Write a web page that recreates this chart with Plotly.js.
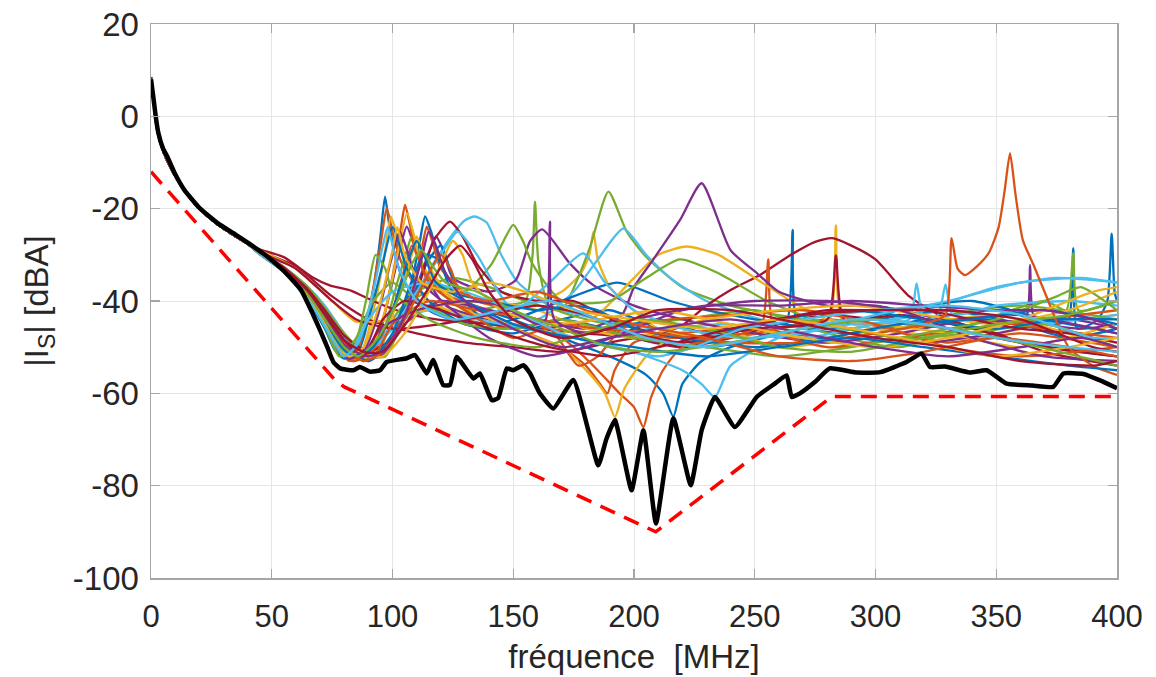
<!DOCTYPE html>
<html>
<head>
<meta charset="utf-8">
<script src="https://cdn.plot.ly/plotly-3.0.1.min.js"></script>
<style>html,body{margin:0;padding:0;background:#fff;}#chart{width:1156px;height:677px;}</style>
</head>
<body>
<div id="chart"></div>
<script>
// x ticks / y ticks
const xTicks = [0,50,100,150,200,250,300,350,400];
const xTickText = ['0','50','100','150','200','250','300','350','400'];
const yTicks = [-100,-80,-60,-40,-20,0,20];
const yTickText = ['-100','-80','-60','-40','-20','0','20'];

// shared low-frequency decay of all coloured curves
const decF = [0,1,2,3,5,8,12,16,20,25,30,35,40];
const decL = [8.5,4,-1,-4,-7.5,-11,-14.5,-17.5,-20,-22.3,-24.3,-26,-27.6];

// coloured curves (frequency MHz, level dBA) after the shared decay
const f01=[45,55,65,72,78,84,88,92,95,96.9,98.5,101,105,115,130,150,170,190,210,230,250,263,265.7,268,290,320,350,375,380,381.9,383.5,392,396,397.8,399,400];
const L01=[-29.8,-33.6,-39.5,-45,-51,-52.8,-48,-38,-26,-17.4,-23,-30,-36,-42,-45,-47,-44,-42,-46,-50,-48,-45,-24.6,-45,-47,-44,-42,-45,-44,-28.6,-46,-44,-40,-25.4,-38,-40];
const f02=[45,55,65,72,78,82,86,91,95,97.6,100,104,115,130,150,170,180,186,189,192,200,220,250,280,300,330,360,400];
const L02=[-29.7,-33.4,-39,-44.5,-50.5,-53,-50,-40,-28,-19.9,-25,-32,-40,-44,-46,-50,-54,-58,-60,-55,-49,-47,-46,-48,-46,-49,-47,-50];
const f03=[45,55,65,72,78,84,88,93,97,99.3,102,106,115,130,150,170,178,181.5,183.2,185,190,210,240,270,281,283.6,286,300,340,370,400];
const L03=[-29.6,-33.3,-38.6,-44,-50,-53,-50,-40,-29,-21.7,-26,-33,-40,-43,-42,-38,-34,-30,-25,-31,-37,-46,-48,-45,-44,-23.6,-44,-46,-48,-45,-43];
const f04=[45,55,65,72,80,88,94,99,103,105.9,109,114,122,140,160,180,200,220,240,260,290,320,350,380,400];
const L04=[-29.5,-33,-38,-43,-49,-53,-48,-38,-29,-23.9,-28,-35,-41,-44,-46,-45,-48,-50,-47,-44,-46,-49,-47,-44,-46];
const f05=[45,55,65,72,80,90,96,102,106,108,111,116,130,145,155,158,159,160.5,165,190,220,250,280,310,340,370,379,381.9,384,400];
const L05=[-29.5,-32.8,-37.5,-42,-48,-52.5,-47,-36,-29,-26,-30,-36,-42,-41,-40,-30,-18.5,-32,-41,-45,-44,-42,-47,-50,-45,-40,-42,-29.7,-42,-40];
const f06=[45,55,65,72,80,88,93,100,110,118,125,130,134,139,145,152,165,185,210,240,270,300,330,360,400];
const L06=[-29.4,-32.6,-37,-41,-47,-52,-51,-45,-38,-31,-25.5,-22.5,-21.7,-23,-30,-36,-41,-44,-46,-45,-48,-45,-42,-45,-43];
const f07=[45,55,67,74,83,92,101.7,110,119.7,140,160,180,200,220,240,260,280,300,330,360,400];
const L07=[-28.8,-30.5,-34.9,-36.6,-37.8,-40,-42,-43.2,-44.1,-45,-46,-47,-48,-50,-48,-45,-43,-44,-46,-49,-52];
const f08=[45,55,65,72,80,86,92,100,107,111,113.5,116,120,130,150,170,190,205,212,216.3,220,228,240,270,300,330,360,380,400];
const L08=[-29.7,-33.4,-39,-44.5,-50.5,-52.5,-52,-48,-38,-28,-21.7,-25,-32,-40,-44,-48,-52,-56,-60,-65,-58,-53,-50,-46,-44,-42,-45,-48,-46];
const f09=[45,55,65,72,78,84,90,96,101,103.5,105.2,107,110,120,140,160,175,185,194,200,203.9,207,212,220,250,280,310,340,370,400];
const L09=[-29.8,-33.5,-39.3,-45,-51,-53,-51,-44,-32,-24,-19.2,-23,-30,-38,-42,-44,-50,-55,-60,-63,-67.3,-61,-55,-50,-47,-44,-46,-44,-46,-48];
const f10=[45,55,65,72,78,85,91,97,102,106,109,112,125,150,170,182,188,192.1,196,205,215,230,260,290,320,350,380,400];
const L10=[-29.7,-33.3,-38.8,-44.3,-50,-52.5,-50,-42,-30,-21,-26,-32,-40,-46,-50,-56,-60,-65.1,-59,-52,-48,-45,-50,-48,-45,-43,-47,-49];
const f11=[45,55,65,72,80,88,94,102,110,115,118,121,125,140,151,157,162,173.5,183,200,220,250,280,310,340,362,364,366,385,400];
const L11=[-29.6,-33.2,-38.3,-43.5,-49.5,-52.5,-52,-47,-37,-29.5,-26,-29,-35,-38,-35.5,-27,-24.5,-31.9,-36.5,-41,-44,-47,-49,-47,-44,-44,-32.2,-44,-46,-45];
const f12=[45,55,65,72,80,88,94,100,110,125,140,155,170,176,182,189.4,197,205,220,240,270,300,330,360,400];
const L12=[-29.4,-32.6,-37,-41.5,-47,-51,-51,-44,-38,-35,-37,-40,-42,-36,-28,-16.3,-25,-30.4,-37,-41,-44,-47,-43,-41,-44];
const f13=[45,55,65,72,80,88,96,105,120,140,160,175,185,195.6,205,215,230,260,290,320,350,375,400];
const L13=[-29.5,-32.9,-37.6,-42.3,-48,-51.5,-52,-44,-40,-42,-44,-38,-31,-24.3,-30,-35,-40,-45,-46,-42,-37,-35,-36];
const f14=[45,60,75,90,110,130,150,170,190,210,219,230,240,252,265,275,282,290,300,314,330,350,370,400];
const L14=[-29.2,-32.5,-39,-44,-47,-49,-50,-51,-49,-47,-45.6,-41,-37.6,-34.4,-30,-27.2,-26.4,-28,-31,-39,-44,-47,-51,-54];
const f15=[45,55,65,72,80,90,100,108,114,120,127,140,150,170,193,215,230,250,280,310,340,370,400];
const L15=[-29.7,-33.3,-38.8,-44.4,-50.5,-53,-49,-40,-32,-28,-38,-45,-44,-40,-36,-40,-42,-44,-46,-42,-40,-44,-47];
const f16=[45,55,65,72,78,83,90,100,108,112,114.2,117,120,135,150,165,190,220,245,253,255.6,258,280,310,340,370,400];
const L16=[-29.8,-33.5,-39.2,-44.8,-50.5,-53,-52,-48,-38,-29,-23.9,-28,-33,-40,-42,-46,-47,-48,-47,-45,-31,-46,-50,-48,-46,-44,-42];
const f17=[45,55,65,72,80,88,96,103,108,110,113,118,130,150,170,185,200,210,221.8,235,250,265,280,300,330,360,400];
const L17=[-29.6,-33.1,-38.2,-43.4,-49.5,-52.5,-49,-38,-30,-26,-30,-35,-42,-45,-47,-43,-35,-30,-28.2,-30,-35,-40,-44,-45,-47,-50,-45];
const f18=[45,55,65,72,80,88,95,105,120,140,160,180,195,200,208,219,228,240,251,260,280,300,330,360,400];
const L18=[-29.5,-32.9,-37.8,-42.6,-48.5,-52,-52,-45,-40,-42,-44,-46,-43,-37,-31,-22.5,-14.5,-29,-34,-38,-41,-41,-44,-43,-47];
const f19=[45,55,65,72,80,88,97,108,120,130,141,146,150,154,158,170,190,205,219,235,255,280,310,340,370,400];
const L19=[-29.4,-32.7,-37.3,-42,-47.5,-51.5,-52,-40,-37,-38,-32,-27,-23.5,-27,-32,-40,-40,-35,-31,-34,-40,-45,-48,-47,-45,-50];
const f20=[45,55,65,72,80,90,100,115,135,155,175,200,220,228,233.5,240,260,290,314,317,320,326,329,332,350,380,400];
const L20=[-29.5,-33,-38,-43,-49,-52,-45,-42,-44,-46,-48,-51,-55,-58,-60.8,-54,-48,-45,-44,-36.2,-44,-43,-36.4,-43,-41,-40,-41];
const f21=[45,55,65,72,80,90,100,110,117,123.8,129,135,145,160,175,195,220,250,280,283.6,287,310,340,370,400];
const L21=[-29.3,-32.8,-37.5,-42,-47.5,-51,-48,-38,-27,-22.8,-26,-32,-38,-40,-40,-45,-48,-46,-44,-30.1,-44,-43,-46,-50,-52];
const f22=[45,55,65,72,76,80,85,90,95,100,103,106,115,130,150,170,190,210,230,260,290,320,350,375,400];
const L22=[-29.9,-33.7,-40,-46,-50.5,-52.5,-50,-44,-34,-24,-28,-33,-40,-45,-46,-44,-46,-44,-47,-44,-42,-44,-46,-44,-44];
const f23=[45,55,65,72,79,86,93,100,105,108,111,115,130,150,165,177,185,195,215,240,270,300,330,360,400];
const L23=[-29.7,-33.4,-39,-44.5,-50.5,-52.5,-50,-42,-33,-28,-31,-36,-42,-48,-46,-54,-52,-46,-44,-43,-42,-45,-50,-52,-50];
const f24=[45,60,75,85,100,120,140,160,180,200,230,260,290,320,350,380,400];
const L24=[-29,-33,-40,-44.5,-44,-41,-40,-42,-46,-48,-44,-42,-41,-43,-45,-42,-38];
const f25=[45,55,65,72,78,82,88,94,99,103,106,110,125,140,160,180,200,220,250,280,310,340,370,400];
const L25=[-29.8,-33.5,-39.4,-45,-50.5,-52.5,-51,-43,-32,-25,-29,-35,-42,-48,-52,-50,-46,-42,-40,-40,-42,-48,-52,-53];
const f26=[45,55,65,72,80,85,92,100,110,130,150,170,200,230,260,290,320,350,375,385,400];
const L26=[-29.6,-33.2,-38.5,-44,-51,-48,-40,-36,-40,-45,-46,-44,-48,-50,-52,-50,-47,-44,-39,-37,-42];
const f27=[45,55,65,72,79,85,92,100,110,120,127,135,150,165,179,188,200,220,245,270,300,330,360,385,400];
const L27=[-29.6,-33.2,-38.6,-44,-50,-52,-50,-46,-38,-30,-25,-30,-42,-36,-29.7,-36,-42,-46,-48,-47,-43,-40,-36,-35,-36];
const f28=[45,60,75,85,100,120,140,160,180,200,220,240,260,280,300,320,340,360,380,400];
const L28=[-29.4,-33,-40,-44,-46,-45,-43,-41,-43,-47,-49,-47,-44,-42,-42,-42,-44,-46,-47,-49];
const f29=[45,55,65,72,80,90,100,107,113,119,125,140,160,175,185,200,220,250,280,310,340,370,400];
const L29=[-29.6,-33.2,-38.5,-43.8,-49.5,-53,-47,-37,-30,-31,-38,-40,-42,-41,-42,-46,-48,-50,-48,-45,-44,-42,-45];
const f30=[45,55,65,72,80,92,100,115,135,160,185,210,240,270,300,320,329,331.5,334,337,342,347,351,353.5,355.7,358,361,365.3,370,380,390,400];
const L30=[-29.5,-33,-38,-43,-49,-52,-45,-40,-42,-44,-46,-47,-49,-49,-47,-45,-43,-26.4,-33,-34.4,-32.5,-29.5,-24,-16,-8,-17,-26.8,-32,-38,-50,-54,-56];
const f31=[45,55,65,72,80,88,96,105,115,120,125,129,133,145,165,185,210,240,270,300,330,360,390,400];
const L31=[-29.6,-33.1,-38.4,-43.6,-49.5,-52,-52,-47,-38,-32,-27,-30,-36,-42,-45,-44,-42,-45,-48,-50,-48,-44,-38,-37];
const f32=[45,55,65,72,80,87,95,110,130,145,160,163.5,165.2,167,180,200,230,260,290,320,350,370,390,400];
const L32=[-29.5,-33,-38.3,-43.5,-49.5,-52,-46,-42,-40,-41,-45,-44,-22.8,-44,-47,-44,-41,-41,-40,-41,-42,-42,-44,-46];
const f33=[45,55,65,72,78,84,89,93,97,100,115,135,160,180,200,230,260,290,320,350,380,400];
const L33=[-29.8,-33.6,-39.6,-45.5,-52,-50,-40,-30,-33,-38,-44,-48,-50,-47,-44,-46,-50,-51,-48,-45,-43,-40];
const f34=[45,55,65,72,78,82,90,100,115,130,150,170,190,210,225,245,270,300,330,360,390,400];
const L34=[-29.6,-33.2,-38.6,-44,-49.5,-51.5,-44,-38,-36,-38,-42,-47,-50,-52,-50,-46,-44,-42,-41,-43,-48,-48];
const f35=[45,55,65,72,80,88,96,105,120,140,165,190,210,240,270,300,330,360,390,400];
const L35=[-29.4,-32.8,-37.8,-42.8,-48.5,-52,-44,-40,-42,-46,-50,-52,-50,-46,-43,-42,-42,-44,-50,-51];
const f36=[45,55,65,72,79,84,92,100,106,110,113,118,130,150,175,200,230,260,290,320,350,380,400];
const L36=[-29.7,-33.4,-39,-44.5,-50,-52,-50,-42,-32,-27,-30,-36,-40,-45,-48,-50,-52,-50,-48,-50,-52,-54,-55];
const f37=[45,55,65,72,80,88,96,104,112,117,120,124,128,140,160,180,200,230,260,290,320,350,380,400];
const L37=[-29.6,-33.2,-38.6,-44,-49.5,-53,-51,-45,-37,-32,-30,-33,-38,-40,-38,-42,-45,-48,-52,-53,-51,-48,-50,-52];
const f38=[45,55,65,72,78,82,88,95,100,102,105,112,125,140,155,175,200,230,260,290,320,350,380,400];
const L38=[-29.8,-33.5,-39.3,-45,-50.5,-52,-50,-40,-29,-24,-30,-36,-38,-36,-38,-42,-44,-46,-44,-46,-49,-52,-50,-48];
const f39=[45,55,65,72,80,90,98,106,112,115,118,122,130,150,170,190,210,240,270,300,330,360,385,400];
const L39=[-29.6,-33.1,-38.3,-43.6,-49.5,-52,-50,-42,-31,-25,-28,-34,-40,-46,-50,-48,-46,-44,-47,-50,-52,-50,-48,-50];
const f40=[45,55,65,72,80,86,94,102,108,112,116,122,135,150,170,190,210,240,270,300,330,360,400];
const L40=[-29.6,-33.2,-38.5,-44,-50,-52,-48,-40,-32,-29,-32,-36,-38,-42,-46,-50,-51,-49,-46,-44,-46,-49,-54];
const f41=[45,55,65,72,77,80,86,92,96,98,102,110,125,145,165,185,205,230,260,290,320,350,380,400];
const L41=[-29.8,-33.6,-39.6,-45.5,-50,-52,-49,-38,-28,-24,-32,-40,-44,-42,-40,-44,-48,-50,-47,-44,-45,-48,-50,-51];
const f42=[45,55,65,72,80,88,96,104,114,122,128,133,140,150,170,190,210,240,270,300,330,360,390,400];
const L42=[-29.4,-32.9,-37.9,-42.9,-48.5,-51,-51,-46,-38,-31,-28,-31,-38,-44,-48,-46,-42,-42,-45,-48,-50,-53,-54,-53];

// lower envelope (black)
const bF=[0,1,2,3,5,7,10,14,20,28,35,41,48,55,62,67,70,73,75.5,78.3,83.8,86.5,90.7,94.8,97.6,105.9,109.3,114.2,116.8,121,123.8,126.6,133.5,136.2,141.1,143.8,147.3,150,154.2,157,161,166.6,174.9,185.2,188.5,192.1,199,203.9,209.1,216.3,223.5,228,233.5,241.8,250.8,258,263.2,265.3,268.7,275,281,292.2,302,312.9,319.1,322.6,328.8,339,346,354.3,365,373.6,377.8,386.1,393,400];
const bL=[8,4,-0.2,-3.5,-7,-9,-12.5,-16.1,-19.8,-23.3,-25.6,-27.7,-30.3,-33.5,-37.5,-42.8,-46.3,-50,-53.2,-54.6,-55,-54.3,-55.3,-55,-53.2,-52.4,-51.7,-55.7,-52.8,-58.2,-58.2,-52.1,-56.8,-55.7,-61.5,-61,-54.6,-55,-53.9,-55.7,-60,-63.3,-57.1,-75.6,-70,-65.8,-81,-68,-88.2,-65.4,-79.9,-68,-60.8,-67.3,-60.8,-58,-56.1,-60.8,-60,-57.5,-54.6,-55.5,-55.4,-53.2,-51.4,-54.3,-54.2,-55.5,-55,-57.9,-58.3,-58.6,-55.7,-55.8,-57.2,-58.9];

// limit (red dashed)
const rF=[0,76,80,209,282,400];
const rL=[-12,-57,-58.6,-90,-60.7,-60.7];

const palette=['#0072BD','#D95319','#EDB120','#7E2F8E','#77AC30','#4DBEEE','#A2142F'];
const series=[[f01,L01],[f02,L02],[f03,L03],[f04,L04],[f05,L05],[f06,L06],[f07,L07],
[f08,L08],[f09,L09],[f10,L10],[f11,L11],[f12,L12],[f13,L13],[f14,L14],
[f15,L15],[f16,L16],[f17,L17],[f18,L18],[f19,L19],[f20,L20],[f21,L21],
[f22,L22],[f23,L23],[f24,L24],[f25,L25],[f26,L26],[f27,L27],[f28,L28],
[f29,L29],[f30,L30],[f31,L31],[f32,L32],[f33,L33],[f34,L34],[f35,L35],
[f36,L36],[f37,L37],[f38,L38],[f39,L39],[f40,L40],[f41,L41],[f42,L42]];

const traces=series.map((s,i)=>({
  x:decF.concat(s[0]), y:decL.concat(s[1]), type:'scatter', mode:'lines',
  line:{color:palette[i%7], width:2.3, shape:'spline', smoothing:0.6}, hoverinfo:'skip'
}));
traces.push({x:bF,y:bL,type:'scatter',mode:'lines',line:{color:'#000000',width:4.5,shape:'spline',smoothing:0.4},hoverinfo:'skip'});
traces.push({x:rF,y:rL,type:'scatter',mode:'lines',line:{color:'#FF0000',width:3.5,dash:'16px,10px'},hoverinfo:'skip'});

const axisCommon={
  showline:true, linecolor:'#a6a6a6', linewidth:1.5, mirror:'ticks',
  ticks:'inside', ticklen:9, tickwidth:1.2, tickcolor:'#a6a6a6',
  showgrid:true, gridcolor:'#e6e6e6', gridwidth:1, zeroline:false,
  tickmode:'array'
};
const layout={
  width:1156, height:677,
  margin:{l:151,r:39,t:24,b:99,pad:0},
  paper_bgcolor:'#ffffff', plot_bgcolor:'#ffffff',
  showlegend:false,
  font:{family:'Liberation Sans, Arial, Helvetica, sans-serif', color:'#262626'},
  xaxis:Object.assign({},axisCommon,{
    range:[0,400], tickvals:xTicks, ticktext:xTickText,
    tickfont:{size:31,color:'#262626'}, ticklabelstandoff:10,
    title:{text:'fréquence \u00a0[MHz]', font:{size:33,color:'#262626'}, standoff:12}
  }),
  yaxis:Object.assign({},axisCommon,{
    range:[-100,20], tickvals:yTicks, ticktext:yTickText,
    tickfont:{size:33,color:'#262626'}, ticklabelstandoff:4,
    title:{text:'|I<sub>S</sub>| [dBA]', font:{size:33,color:'#262626'}, standoff:14}
  })
};
Plotly.newPlot('chart',traces,layout,{displayModeBar:false,staticPlot:true});
</script>
</body>
</html>
